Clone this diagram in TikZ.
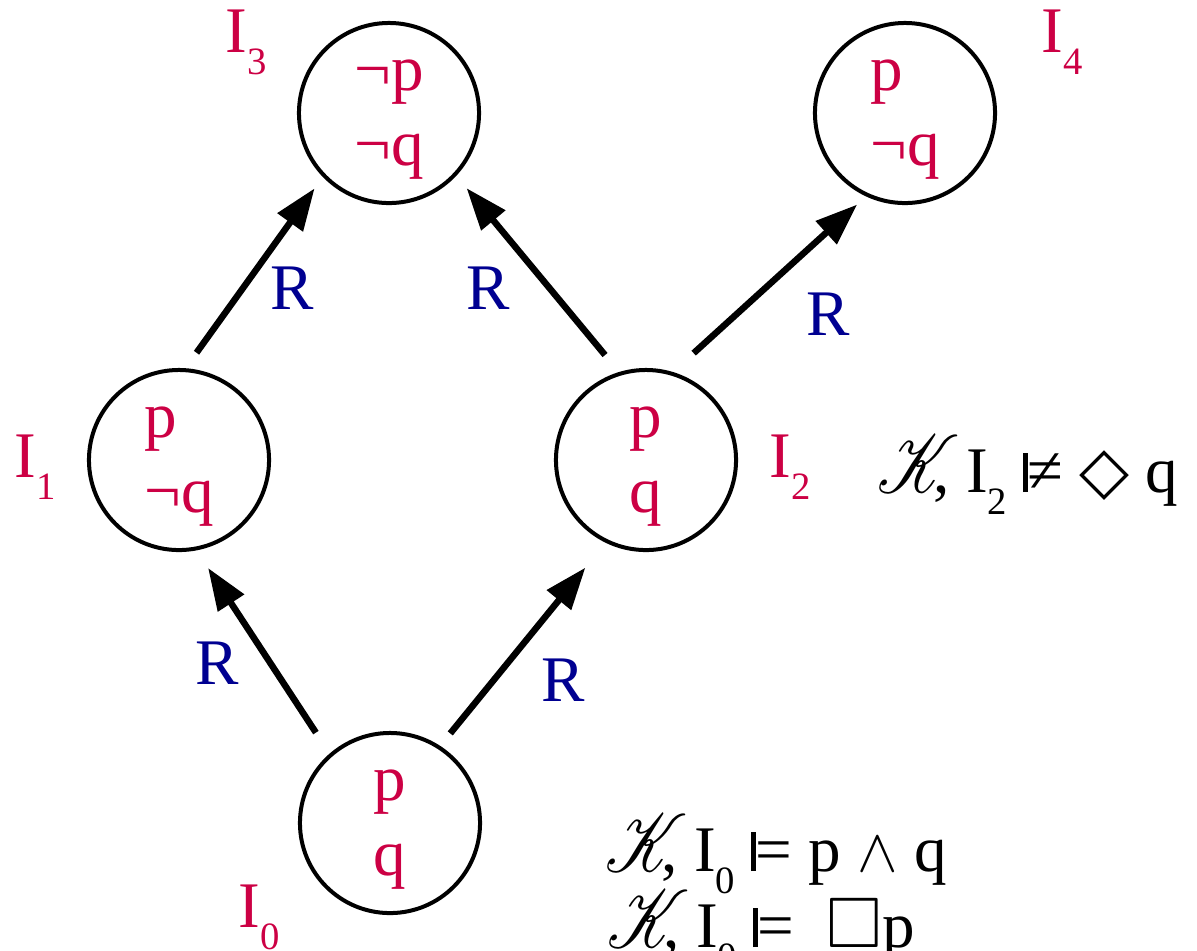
\documentclass[tikz,border=0pt]{standalone}
\usepackage{amssymb}
\usepackage{mathrsfs}
\usepackage{fontspec}
\setmainfont{Liberation Serif}
\newfontfamily\symfont{DejaVu Sans}
\usepackage{tikz}
\usetikzlibrary{positioning,arrows.meta}

\definecolor{propred}{RGB}{204,0,68}
\definecolor{relblue}{RGB}{0,0,145}
\newcommand{\Isub}[1]{I\raisebox{-0.22cm}{\fontsize{11}{12}\selectfont #1}}
\newcommand{\vbar}{\rule{1.2pt}{0.39cm}}
\newcommand{\kripke}{\scalebox{1.1}[1.35]{$\mathscr{K}$}\kern-0.4em,}

\begin{document}
\begin{tikzpicture}[
        x=0.01cm, y=-0.01cm,
        world/.style={
            circle,
            draw=black,
            line width=0.04cm,
            minimum size=1.8cm,
            align=left,
            text depth=0pt,
            text=propred,
            font=\fontsize{18.5}{21.3}\selectfont
        },
        wname/.style={
            anchor=base west,
            inner sep=0pt,
            text=propred,
            font=\fontsize{18.5}{21.3}\selectfont
        },
        rel/.style={
            inner sep=0pt,
            text=relblue,
            font=\fontsize{18.5}{21.3}\selectfont
        },
        formula/.style={
            anchor=base west,
            inner sep=0pt,
            font=\fontsize{18.5}{21.3}\selectfont
        },
        access/.style={
            -{Triangle[length=0.42cm,width=0.3cm]},
            line width=0.065cm
        }
    ]

    \useasboundingbox (0,0) rectangle (1197,950);

    % worlds
    \node[world] (w0) at (390,823) {p\\q};
    \node[world] (w1) at (179,460) {p\\¬q};
    \node[world] (w2) at (646,460) {p\\q};
    \node[world] (w3) at (389,113) {¬p\\¬q};
    \node[world] (w4) at (905,113) {p\\¬q};

    % world names
    \node[wname] (name0) at (238,927) {\Isub{0}};
    \node[wname] (name1) at (14,477) {\Isub{1}};
    \node[wname] (name2) at (769,477) {\Isub{2}};
    \node[wname] (name3) at (225,52) {\Isub{3}};
    \node[wname] (name4) at (1041,52) {\Isub{4}};

    % accessibility
    \draw[access, shorten <=0.25cm, shorten >=0.21cm] (w0.131.8) -- (w1.281.6);
    \draw[access, shorten <=0.16cm, shorten >=0.32cm] (w0.57.4) -- (w2.244.6);
    \draw[access, shorten <=0.19cm, shorten >=0.14cm] (w1.86.2) -- (w3.224);
    \draw[access, shorten <=0.22cm, shorten >=0.16cm] (w2.107) -- (w3.317.8);
    \draw[access, shorten <=0.28cm, shorten >=0.12cm] (w2.73.4) -- (w4.245.7);

    \node[rel] (r01) at (217,663) {R};
    \node[rel] (r02) at (563,680) {R};
    \node[rel] (r13) at (292,288) {R};
    \node[rel] (r23) at (488,288) {R};
    \node[rel] (r24) at (828,314) {R};

    % satisfaction
    \node[formula] (satTwo) at (877,492) {\kripke\ \Isub{2} \vbar≠ {\symfont ◇} q};
    \node[formula] (satAnd) at (605,871) {\kripke\ \Isub{0} \vbar= p $\wedge$ q};
    \node[formula] (satBox) at (607,947) {\kripke\ \Isub{0} \vbar= \ \scalebox{1.1}{$\Box$}p};

\end{tikzpicture}
\end{document}
